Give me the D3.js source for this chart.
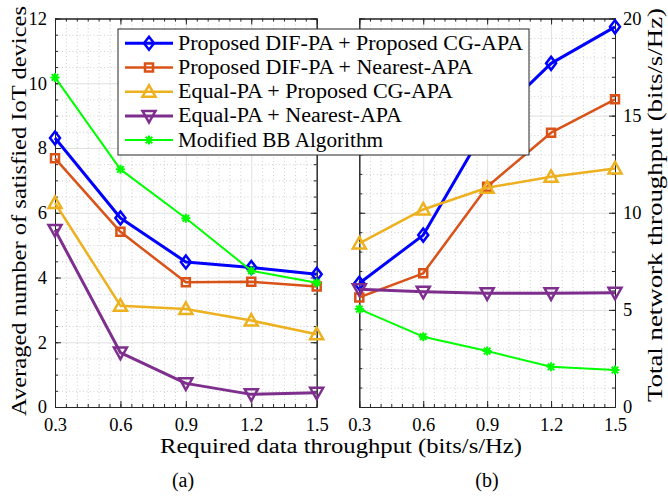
<!DOCTYPE html>
<html>
<head>
<meta charset="utf-8">
<script src="https://cdn.jsdelivr.net/npm/d3@7/dist/d3.min.js"></script>
<style>
  html, body { margin: 0; padding: 0; background: #fff; }
  svg { display: block; }
  text { font-family: "Liberation Serif", "Times New Roman", serif; fill: #000; }
</style>
</head>
<body>
<svg id="chart" width="668" height="496"></svg>
<script>
// ---- data ----
const xTicks = [0.3, 0.6, 0.9, 1.2, 1.5];
const seriesNames = [
  "Proposed DIF-PA + Proposed CG-APA",
  "Proposed DIF-PA + Nearest-APA",
  "Equal-PA + Proposed CG-APA",
  "Equal-PA + Nearest-APA",
  "Modified BB Algorithm"
];
// (a) averaged number of satisfied IoT devices
const devDifCg   = [8.31, 5.84, 4.48, 4.31, 4.10];
const devDifNear = [7.68, 5.41, 3.85, 3.87, 3.72];
const devEqCg    = [6.30, 3.13, 3.03, 2.67, 2.25];
const devEqNear  = [5.47, 1.68, 0.73, 0.39, 0.44];
const devBB      = [10.18, 7.34, 5.83, 4.21, 3.84];
// (b) total network throughput (bits/s/Hz)
const thrDifCg   = [6.37, 8.85, 14.5, 17.69, 19.57];
const thrDifNear = [5.64, 6.88, 11.34, 14.12, 15.84];
const thrEqCg    = [8.42, 10.17, 11.29, 11.85, 12.28];
const thrEqNear  = [6.06, 5.93, 5.85, 5.85, 5.88];
const thrBB      = [5.04, 3.62, 2.88, 2.07, 1.90];
const leftYTicks  = [0, 2, 4, 6, 8, 10, 12];
const rightYTicks = [0, 5, 10, 15, 20];

// ---- styles ----
const styles = [
  { color: "#0000ff", width: 3,   marker: "diamond" },
  { color: "#d95319", width: 2.5, marker: "square" },
  { color: "#edb120", width: 2.5, marker: "triUp" },
  { color: "#7e2f8e", width: 3,   marker: "triDown" },
  { color: "#00ff00", width: 2,   marker: "star" }
];

const svg = d3.select("#chart");
const TOP = 18.5, BOTTOM = 407;

function markerPath(type) {
  switch (type) {
    case "diamond": return "M0,-6.5L5,0L0,6.5L-5,0Z";
    case "square":  return "M-4,-4H4V4H-4Z";
    case "triUp":   return "M0,-6.5L6.5,5L-6.5,5Z";
    case "triDown": return "M0,6.5L6.5,-5L-6.5,-5Z";
    case "star":    return "M-4.5,0H4.5M0,-4.5V4.5M-3.3,-3.3L3.3,3.3M-3.3,3.3L3.3,-3.3";
  }
}

function drawPanel(opts) {
  const x = d3.scaleLinear().domain([0.3, 1.5]).range([opts.x0, opts.x1]);
  const y = d3.scaleLinear().domain([0, opts.yMax]).range([BOTTOM, TOP]);
  const w = opts.x1 - opts.x0, h = BOTTOM - TOP;
  const g = svg.append("g");

  const xMinor = d3.range(0.3, 1.5001, 0.05).map(v => +v.toFixed(2));
  const yMinor = d3.range(0, opts.yMax + 1e-9, opts.yMinor).map(v => +v.toFixed(2));

  // minor dotted grid
  const minorGrid = g.append("g");
  minorGrid.append("g").attr("transform", `translate(0,${BOTTOM})`)
    .call(d3.axisBottom(x).tickValues(xMinor.filter(v => !xTicks.includes(v))).tickSize(-h).tickFormat(""));
  minorGrid.append("g").attr("transform", `translate(${opts.x0},0)`)
    .call(d3.axisLeft(y).tickValues(yMinor.filter(v => !opts.yTicks.includes(v))).tickSize(-w).tickFormat(""));
  minorGrid.selectAll(".domain").remove();
  minorGrid.selectAll("line").attr("stroke", "#c4c4c4").attr("stroke-width", 0.8).attr("stroke-dasharray", "1,2.5");

  // major solid grid
  const majorGrid = g.append("g");
  majorGrid.append("g").attr("transform", `translate(0,${BOTTOM})`)
    .call(d3.axisBottom(x).tickValues(xTicks).tickSize(-h).tickFormat(""));
  majorGrid.append("g").attr("transform", `translate(${opts.x0},0)`)
    .call(d3.axisLeft(y).tickValues(opts.yTicks).tickSize(-w).tickFormat(""));
  majorGrid.selectAll(".domain").remove();
  majorGrid.selectAll("line").attr("stroke", "#e0e0e0").attr("stroke-width", 1);

  // axes: ticks on all four sides, pointing inward
  const axes = g.append("g").attr("class", "axes");
  const fmtX = d3.format(".1f");
  axes.append("g").attr("transform", `translate(0,${BOTTOM})`)
    .call(d3.axisBottom(x).tickValues(xTicks).tickSize(-6).tickSizeOuter(0).tickPadding(11).tickFormat(fmtX));
  axes.append("g").attr("transform", `translate(0,${BOTTOM})`)
    .call(d3.axisBottom(x).tickValues(xMinor).tickSize(-3).tickSizeOuter(0).tickFormat(""));
  axes.append("g").attr("transform", `translate(0,${TOP})`)
    .call(d3.axisTop(x).tickValues(xTicks).tickSize(-6).tickSizeOuter(0).tickFormat(""));
  axes.append("g").attr("transform", `translate(0,${TOP})`)
    .call(d3.axisTop(x).tickValues(xMinor).tickSize(-3).tickSizeOuter(0).tickFormat(""));

  const labelLeft = opts.labelSide === "left";
  axes.append("g").attr("transform", `translate(${opts.x0},0)`)
    .call(d3.axisLeft(y).tickValues(opts.yTicks).tickSize(-6).tickSizeOuter(0).tickPadding(8)
      .tickFormat(labelLeft ? d3.format("d") : ""));
  axes.append("g").attr("transform", `translate(${opts.x0},0)`)
    .call(d3.axisLeft(y).tickValues(yMinor).tickSize(-3).tickSizeOuter(0).tickFormat(""));
  axes.append("g").attr("transform", `translate(${opts.x1},0)`)
    .call(d3.axisRight(y).tickValues(opts.yTicks).tickSize(-6).tickSizeOuter(0).tickPadding(8)
      .tickFormat(labelLeft ? "" : d3.format("d")));
  axes.append("g").attr("transform", `translate(${opts.x1},0)`)
    .call(d3.axisRight(y).tickValues(yMinor).tickSize(-3).tickSizeOuter(0).tickFormat(""));

  axes.selectAll(".domain").attr("stroke", "#262626").attr("stroke-width", 1);
  axes.selectAll(".tick line").attr("stroke", "#262626").attr("stroke-width", 1);
  axes.selectAll("text").attr("font-size", 18.5).attr("font-family", "Liberation Serif").attr("fill", "#000");

  // series
  opts.series.forEach((vals, i) => {
    const st = styles[i];
    const pts = xTicks.map((xv, j) => [x(xv), y(vals[j])]);
    g.append("path").attr("d", d3.line()(pts))
      .attr("fill", "none").attr("stroke", st.color).attr("stroke-width", st.width)
      .attr("stroke-linejoin", "round");
    g.append("g").selectAll("path").data(pts).join("path")
      .attr("transform", d => `translate(${d[0]},${d[1]})`)
      .attr("d", markerPath(st.marker))
      .attr("fill", "none").attr("stroke", st.color)
      .attr("stroke-width", st.marker === "star" ? 2 : 2.5)
      .attr("stroke-linejoin", "miter");
  });
}

drawPanel({
  x0: 55, x1: 316.7, yMax: 12, yTicks: leftYTicks, yMinor: 0.5, labelSide: "left",
  series: [devDifCg, devDifNear, devEqCg, devEqNear, devBB]
});
drawPanel({
  x0: 359.3, x1: 615, yMax: 20, yTicks: rightYTicks, yMinor: 1, labelSide: "right",
  series: [thrDifCg, thrDifNear, thrEqCg, thrEqNear, thrBB]
});

// axis titles
svg.append("text").attr("x", 341).attr("y", 453).attr("text-anchor", "middle")
  .attr("font-size", 20).attr("textLength", 362).attr("lengthAdjust", "spacingAndGlyphs")
  .text("Required data throughput (bits/s/Hz)");
svg.append("text").attr("transform", "translate(26,211) rotate(-90)").attr("text-anchor", "middle")
  .attr("font-size", 20).attr("textLength", 410).attr("lengthAdjust", "spacingAndGlyphs")
  .text("Averaged number of satisfied IoT devices");
svg.append("text").attr("transform", "translate(662,205) rotate(-90)").attr("text-anchor", "middle")
  .attr("font-size", 20).attr("textLength", 394).attr("lengthAdjust", "spacingAndGlyphs")
  .text("Total network throughput (bits/s/Hz)");
svg.append("text").attr("x", 183).attr("y", 487).attr("text-anchor", "middle")
  .attr("font-size", 20).text("(a)");
svg.append("text").attr("x", 487).attr("y", 487).attr("text-anchor", "middle")
  .attr("font-size", 20).text("(b)");

// legend
const legendWidths = [345, 295, 275, 224, 205];
const lg = svg.append("g");
lg.append("rect").attr("x", 118).attr("y", 29).attr("width", 411).attr("height", 126)
  .attr("fill", "#fff").attr("stroke", "#262626").attr("stroke-width", 1);
seriesNames.forEach((name, i) => {
  const st = styles[i];
  const cy = 43.3 + i * 24.2;
  lg.append("line").attr("x1", 125).attr("x2", 173).attr("y1", cy).attr("y2", cy)
    .attr("stroke", st.color).attr("stroke-width", st.width);
  lg.append("path").attr("transform", `translate(149,${cy})`).attr("d", markerPath(st.marker))
    .attr("fill", "none").attr("stroke", st.color).attr("stroke-width", st.marker === "star" ? 2 : 2.5);
  lg.append("text").attr("x", 178).attr("y", cy + 6.5).attr("font-size", 20)
    .attr("textLength", legendWidths[i]).attr("lengthAdjust", "spacingAndGlyphs")
    .text(name);
});
</script>
</body>
</html>
